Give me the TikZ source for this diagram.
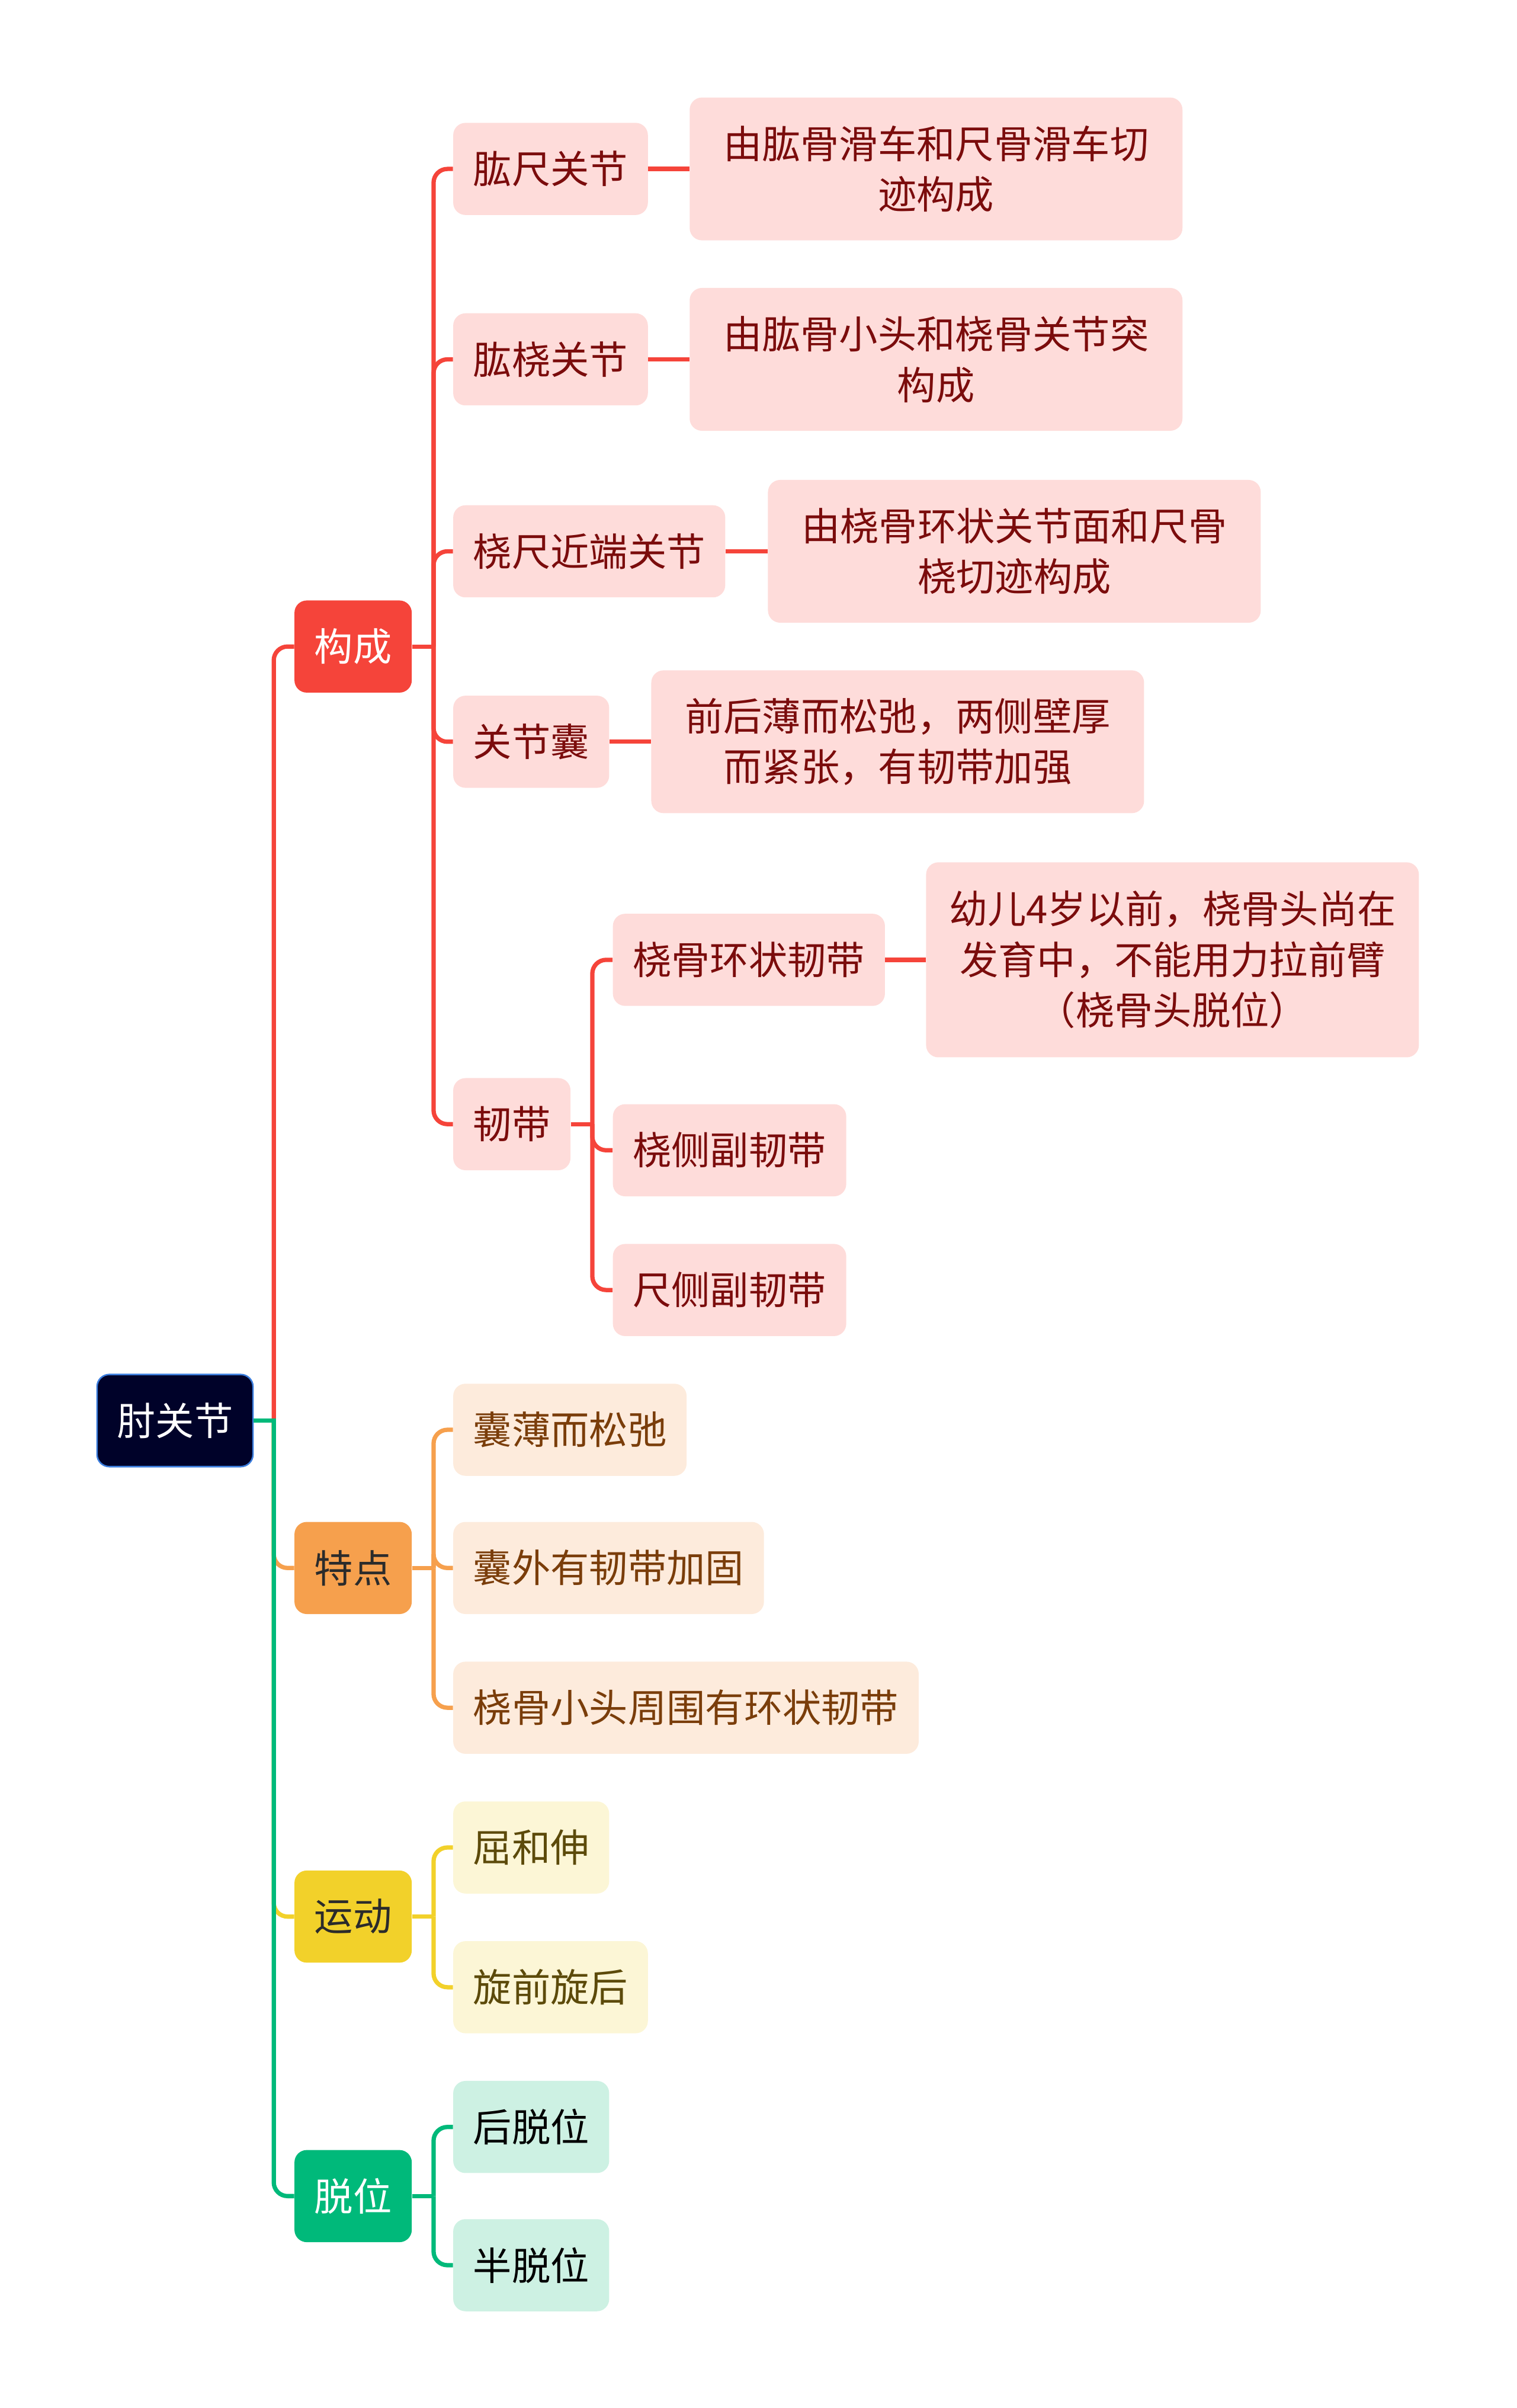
\documentclass[tikz,border=0pt]{standalone}
\usepackage{fontspec}
\setmainfont{Noto Sans CJK SC}
\usepackage{xcolor}
\definecolor{rootbg}{HTML}{000229}
\definecolor{rootedge}{HTML}{3B7DDD}
\definecolor{redmain}{HTML}{F5443A}
\definecolor{redlight}{HTML}{FEDCDA}
\definecolor{redtext}{HTML}{7B0C0C}
\definecolor{orangemain}{HTML}{F6A04D}
\definecolor{orangelight}{HTML}{FDEBDC}
\definecolor{orangetext}{HTML}{7A3D0A}
\definecolor{yellowmain}{HTML}{F2D12A}
\definecolor{yellowlight}{HTML}{FCF6D6}
\definecolor{yellowtext}{HTML}{5C4A0A}
\definecolor{greenmain}{HTML}{00B97A}
\definecolor{greenlight}{HTML}{CDF1E3}
\definecolor{darktext}{HTML}{2B2B2B}

\begin{document}
\begin{tikzpicture}[x=1pt,y=-1pt,
  box/.style={rounded corners=8pt,inner xsep=13pt,inner ysep=0pt,minimum height=60pt,font=\fontsize{25.2}{33}\selectfont},
  rootbox/.style={box,fill=rootbg,draw=rootedge,line width=1pt,text=white},
  leaf/.style={box,anchor=west,fill=#1light,text=#1text},
  note/.style={leaf=#1,minimum width=321pt,minimum height=93pt,align=center},
  link/.style={line width=2.8pt,rounded corners=9pt,draw=#1main}]
\useasboundingbox (0,0) rectangle (988,1568);
\node[rootbox] (elbow) at (114,925) {肘关节};
\node[box,fill=redmain,text=white] (goucheng) at (230,421) {构成};
\node[box,fill=orangemain,text=darktext] (tedian) at (230,1021) {特点};
\node[box,fill=yellowmain,text=darktext] (yundong) at (230,1248) {运动};
\node[box,fill=greenmain,text=white] (tuowei) at (230,1430) {脱位};
% 构成
\node[leaf=red] (gongchi) at (295,110) {肱尺关节};
\node[leaf=red] (gongrao) at (295,234) {肱桡关节};
\node[leaf=red] (raochi) at (295,359) {桡尺近端关节};
\node[leaf=red] (nang) at (295,483) {关节囊};
\node[leaf=red] (rendai) at (295,732) {韧带};
\node[note=red] (gongchiN) at (449,110) {由肱骨滑车和尺骨滑车切\\迹构成};
\node[note=red] (gongraoN) at (449,234) {由肱骨小头和桡骨关节突\\构成};
\node[note=red] (raochiN) at (500,359) {由桡骨环状关节面和尺骨\\桡切迹构成};
\node[note=red] (nangN) at (424,483) {前后薄而松弛，两侧壁厚\\而紧张，有韧带加强};
\node[leaf=red] (huanzhuang) at (399,625) {桡骨环状韧带};
\node[leaf=red] (raoce) at (399,749) {桡侧副韧带};
\node[leaf=red] (chice) at (399,840) {尺侧副韧带};
\node[note=red,minimum height=127pt] (huanzhuangN) at (603,625) {幼儿4岁以前，桡骨头尚在\\发育中，不能用力拉前臂\\（桡骨头脱位）};
% 特点
\node[leaf=orange] (nangbo) at (295,931) {囊薄而松弛};
\node[leaf=orange] (nangwai) at (295,1021) {囊外有韧带加固};
\node[leaf=orange] (xiaotou) at (295,1112) {桡骨小头周围有环状韧带};
% 运动
\node[leaf=yellow] (qu) at (295,1203) {屈和伸};
\node[leaf=yellow] (xuan) at (295,1294) {旋前旋后};
% 脱位
\node[leaf=green,text=black] (hou) at (295,1385) {后脱位};
\node[leaf=green,text=black] (ban) at (295,1475) {半脱位};

\foreach \kid/\col in {goucheng/red,tedian/orange,yundong/yellow,tuowei/green}
  \draw[link=\col] (elbow.east) ++(13,0) |- (\kid.west);
\draw[link=green] (elbow.east) -- ++(14.4,0);
\draw[link=red] (goucheng.east) -- ++(14,0);
\foreach \kid in {gongchi,gongrao,raochi,nang,rendai}
  \draw[link=red] (goucheng.east) ++(14,0) |- (\kid.west);
\draw[link=red] (gongchi) -- (gongchiN);
\draw[link=red] (gongrao) -- (gongraoN);
\draw[link=red] (raochi) -- (raochiN);
\draw[link=red] (nang) -- (nangN);
\draw[link=red] (rendai.east) -- ++(14,0);
\foreach \kid in {huanzhuang,raoce,chice}
  \draw[link=red] (rendai.east) ++(14,0) |- (\kid.west);
\draw[link=red] (huanzhuang) -- (huanzhuangN);
\draw[link=orange] (tedian.east) -- ++(14,0);
\foreach \kid in {nangbo,nangwai,xiaotou}
  \draw[link=orange] (tedian.east) ++(14,0) |- (\kid.west);
\draw[link=yellow] (yundong.east) -- ++(14,0);
\foreach \kid in {qu,xuan}
  \draw[link=yellow] (yundong.east) ++(14,0) |- (\kid.west);
\draw[link=green] (tuowei.east) -- ++(14,0);
\foreach \kid in {hou,ban}
  \draw[link=green] (tuowei.east) ++(14,0) |- (\kid.west);
\end{tikzpicture}
\end{document}
